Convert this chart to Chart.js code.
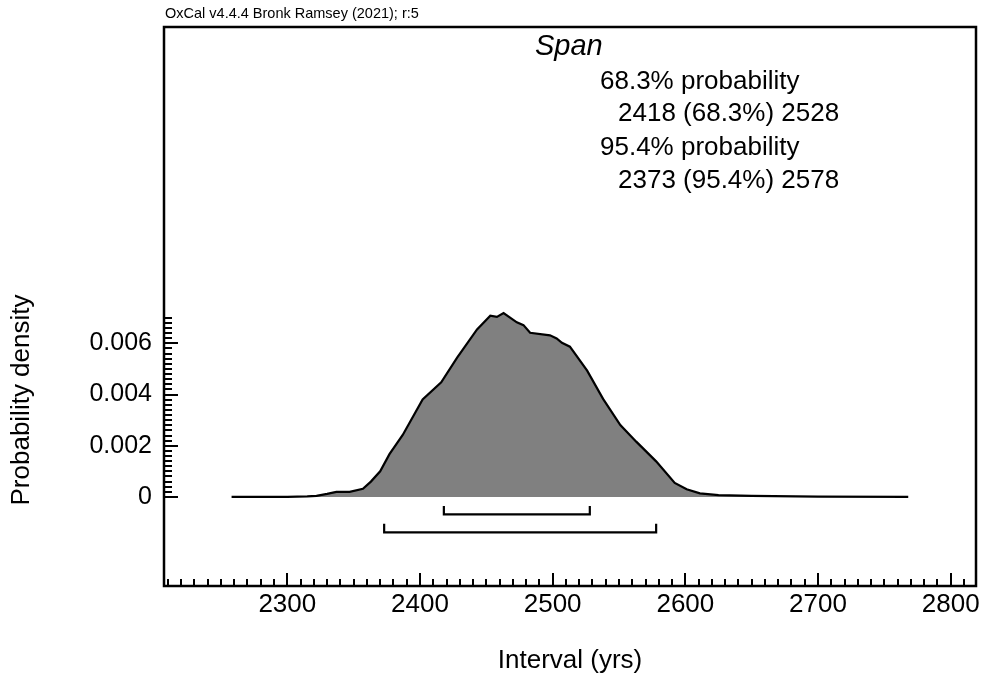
<!DOCTYPE html>
<html>
<head>
<meta charset="utf-8">
<title>Span</title>
<script src="https://cdn.jsdelivr.net/npm/chart.js@4.4.1/dist/chart.umd.min.js"></script>
<style>
  html, body { margin: 0; padding: 0; background: #ffffff; }
  #wrap { width: 984px; height: 675px; position: relative; }
</style>
</head>
<body>
<div id="wrap"><canvas id="c" width="984" height="675"></canvas></div>
<script>
// Posterior density of the Span (years)
const densityYears = [2258, 2280, 2300, 2315, 2322, 2330, 2337, 2347, 2357, 2363, 2370, 2377, 2387,
  2402, 2416, 2428, 2443, 2453, 2458, 2463, 2473, 2478, 2483, 2498, 2503, 2507, 2513, 2526, 2538,
  2551, 2563, 2578, 2592, 2601, 2611, 2625, 2650, 2700, 2768];
const densityValues = [0, 0, 0.000005, 0.00002, 0.00004, 0.00012, 0.0002, 0.0002, 0.00032, 0.0006,
  0.001, 0.00167, 0.00242, 0.00381, 0.00448, 0.00544, 0.00654, 0.00708, 0.00703, 0.00718, 0.00682,
  0.00671, 0.00641, 0.00631, 0.00619, 0.00602, 0.00587, 0.00493, 0.00383, 0.00281, 0.00216, 0.00139,
  0.00055, 0.0003, 0.00014, 0.00007, 0.00004, 0.00001, 0];

// Highest posterior density ranges
const range68 = [2418, 2528];
const range95 = [2373, 2578];

// Axis ticks
const xTickValues = [2300, 2400, 2500, 2600, 2700, 2800];
const xTickLabels = ['2300', '2400', '2500', '2600', '2700', '2800'];
const yTickValues = [0, 0.002, 0.004, 0.006];
const yTickLabels = ['0', '0.002', '0.004', '0.006'];
const xMinorStep = 10, xMinorFrom = 2210, xMinorTo = 2810;
const yMinorStep = 0.0002, yMinorFrom = 0, yMinorTo = 0.007;

const titleText = 'Span';
const headerText = 'OxCal v4.4.4 Bronk Ramsey (2021); r:5';
const xTitle = 'Interval (yrs)';
const yTitle = 'Probability density';

const FONT = '"Liberation Sans", Arial, Helvetica, sans-serif';

// Range bracket: a horizontal bar below the baseline with short upturned ends
function bracket(range, level, rise) {
  return [
    { x: range[0], y: level + rise },
    { x: range[0], y: level },
    { x: range[1], y: level },
    { x: range[1], y: level + rise }
  ];
}

const curve = densityYears.map((x, i) => ({ x, y: densityValues[i] }));

const frameAndTicks = {
  id: 'frameAndTicks',
  afterDatasetsDraw(chart) {
    const { ctx, chartArea: a, scales } = chart;
    const xs = scales.x, ys = scales.y;
    ctx.save();
    ctx.strokeStyle = '#000';
    ctx.lineCap = 'butt';
    // minor + major ticks pointing inward
    ctx.lineWidth = 2;
    ctx.beginPath();
    for (let v = xMinorFrom; v <= xMinorTo + 1e-9; v += xMinorStep) {
      const px = Math.round(xs.getPixelForValue(v));
      const major = xTickValues.includes(Math.round(v));
      ctx.moveTo(px, a.bottom);
      ctx.lineTo(px, a.bottom - (major ? 13 : 7));
    }
    for (let k = 0; yMinorFrom + k * yMinorStep <= yMinorTo + 1e-12; k++) {
      const v = yMinorFrom + k * yMinorStep;
      const py = Math.round(ys.getPixelForValue(v));
      const major = (k % 10) === 0;
      ctx.moveTo(a.left, py);
      ctx.lineTo(a.left + (major ? 14 : 8), py);
    }
    ctx.stroke();
    // frame
    ctx.lineWidth = 2.5;
    ctx.strokeRect(a.left, a.top, a.right - a.left, a.bottom - a.top);

    // texts
    ctx.fillStyle = '#000';
    ctx.textBaseline = 'alphabetic';
    ctx.textAlign = 'left';
    ctx.font = '14.5px ' + FONT;
    ctx.fillText(headerText, 165, 18);
    ctx.font = 'italic 29px ' + FONT;
    ctx.fillText(titleText, 535, 55);
    ctx.font = '26px ' + FONT;
    ctx.fillText('68.3% probability', 600, 89);
    ctx.fillText(range68[0] + ' (68.3%) ' + range68[1], 618, 121);
    ctx.fillText('95.4% probability', 600, 155);
    ctx.fillText(range95[0] + ' (95.4%) ' + range95[1], 618, 188);

    ctx.textAlign = 'center';
    ctx.fillText(xTitle, (a.left + a.right) / 2, 668);
    ctx.translate(29, 400);
    ctx.rotate(-Math.PI / 2);
    ctx.fillText(yTitle, 0, 0);
    ctx.restore();
  }
};

new Chart(document.getElementById('c'), {
  type: 'line',
  data: {
    datasets: [
      {
        data: curve,
        borderColor: '#000',
        borderWidth: 2.2,
        backgroundColor: '#808080',
        fill: 'origin',
        pointRadius: 0,
        tension: 0
      },
      {
        data: bracket(range68, -0.00068, 0.00033),
        borderColor: '#000',
        borderWidth: 2.2,
        fill: false,
        pointRadius: 0,
        tension: 0
      },
      {
        data: bracket(range95, -0.00138, 0.00033),
        borderColor: '#000',
        borderWidth: 2.2,
        fill: false,
        pointRadius: 0,
        tension: 0
      }
    ]
  },
  options: {
    responsive: false,
    animation: false,
    events: [],
    layout: { padding: { top: 21, right: 8, left: 0, bottom: 0 } },
    plugins: { legend: { display: false }, tooltip: { enabled: false }, title: { display: false } },
    scales: {
      x: {
        type: 'linear',
        min: 2207.07,
        max: 2819.07,
        grid: { display: false, drawTicks: false },
        border: { display: false },
        afterBuildTicks(s) { s.ticks = xTickValues.map(v => ({ value: v })); },
        afterFit(s) { s.height = 89; },
        ticks: {
          autoSkip: false,
          maxRotation: 0,
          padding: 3,
          color: '#000',
          font: { family: FONT, size: 26 },
          callback: (v) => xTickLabels[xTickValues.indexOf(v)] ?? ''
        }
      },
      y: {
        type: 'linear',
        min: -0.003477,
        max: 0.018352,
        grid: { display: false, drawTicks: false },
        border: { display: false },
        afterBuildTicks(s) { s.ticks = yTickValues.map(v => ({ value: v })); },
        afterFit(s) { s.width = 164; },
        ticks: {
          autoSkip: false,
          padding: 12,
          color: '#000',
          font: { family: FONT, size: 25 },
          callback: (v) => yTickLabels[yTickValues.indexOf(v)] ?? ''
        }
      }
    }
  },
  plugins: [frameAndTicks]
});
</script>
</body>
</html>
